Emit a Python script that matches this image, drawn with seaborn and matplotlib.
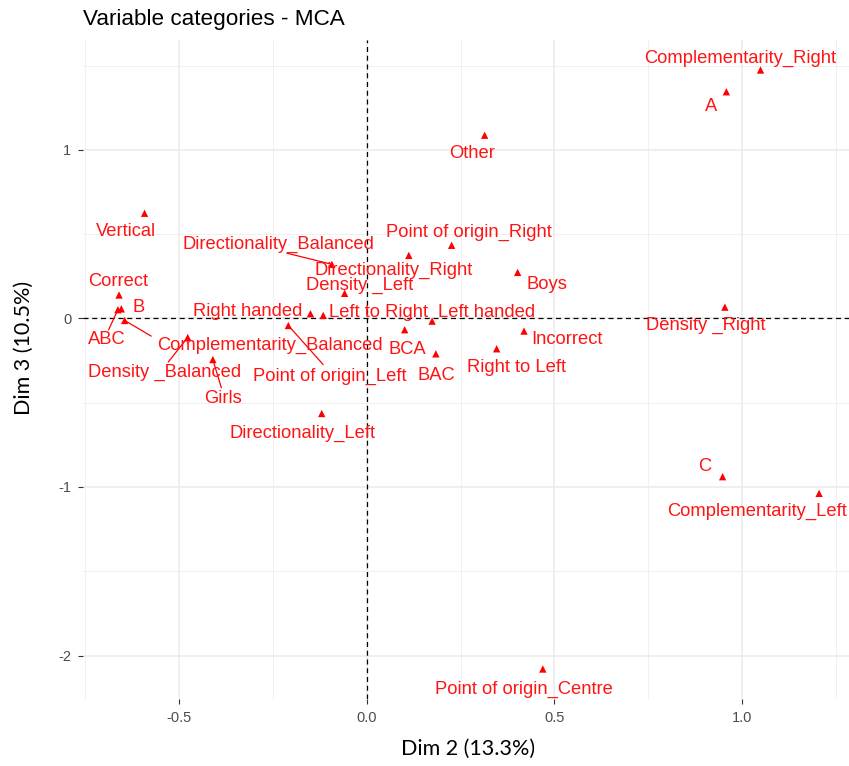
import numpy as np
import pandas as pd
import matplotlib
matplotlib.use('Agg')
import matplotlib.pyplot as plt
import seaborn as sns

# MCA variable categories: coordinates on Dim 2 / Dim 3
categories = [
    'Complementarity_Right', 'A', 'Other', 'Vertical', 'Point of origin_Right',
    'Directionality_Right', 'Directionality_Balanced', 'Boys', 'Density _Left',
    'Correct', 'B', 'ABC', 'Complementarity_Balanced', 'Density _Balanced',
    'Girls', 'Right handed', 'Left to Right', 'Point of origin_Left',
    'Directionality_Left', 'Left handed', 'BCA', 'BAC', 'Right to Left',
    'Incorrect', 'Density _Right', 'C', 'Complementarity_Left',
    'Point of origin_Centre',
]
dim2 = [1.049, 0.958, 0.314, -0.592, 0.226,
        0.112, -0.093, 0.402, -0.059,
        -0.660, -0.654, -0.663, -0.645, -0.477,
        -0.410, -0.150, -0.116, -0.209,
        -0.120, 0.174, 0.101, 0.184, 0.346,
        0.419, 0.954, 0.948, 1.205,
        0.469]
dim3 = [1.474, 1.345, 1.087, 0.624, 0.434,
        0.374, 0.321, 0.273, 0.149,
        0.139, 0.057, 0.052, -0.012, -0.113,
        -0.244, 0.028, 0.018, -0.042,
        -0.564, -0.016, -0.067, -0.210, -0.180,
        -0.075, 0.067, -0.939, -1.038,
        -2.080]

# repelled label placement (offset in pixels from the point) and leader lines
label_offsets = {
    'Complementarity_Right': (-20, 12), 'A': (-15, -15), 'Other': (-13, -18),
    'Vertical': (-19, -18), 'Point of origin_Right': (17, 13),
    'Directionality_Right': (-15, -15), 'Directionality_Balanced': (-53, 20),
    'Boys': (29, -12), 'Density _Left': (15, 8), 'Correct': (-1, 14),
    'B': (17, 1), 'ABC': (-11, -30), 'Complementarity_Balanced': (145, -25),
    'Density _Balanced': (-23, -35), 'Girls': (10, -39),
    'Right handed': (-63, 2), 'Left to Right': (55, 3),
    'Point of origin_Left': (41, -51), 'Directionality_Left': (-19, -20),
    'Left handed': (54, 9), 'BCA': (3, -20), 'BAC': (0, -22),
    'Right to Left': (20, -19), 'Incorrect': (43, -8),
    'Density _Right': (-19, -18), 'C': (-18, 10),
    'Complementarity_Left': (-62, -18), 'Point of origin_Centre': (-19, -20),
}
with_segment = {'Directionality_Balanced', 'ABC', 'Complementarity_Balanced',
                'Density _Balanced', 'Girls', 'Point of origin_Left'}

df = pd.DataFrame({'category': categories, 'dim2': dim2, 'dim3': dim3})

sns.set_theme(style='whitegrid')
plt.rcParams['font.family'] = ['Liberation Sans', 'DejaVu Sans']

W, H = 849, 766
fig = plt.figure(figsize=(W / 100, H / 100), dpi=100)
ax = fig.add_axes([83 / W, 1 - 699 / H, (854 - 83) / W, (699 - 40) / H])

ax.set_xlim(-0.756, 1.298)
ax.set_ylim(-2.258, 1.652)
ax.set_facecolor('white')
for s in ax.spines.values():
    s.set_visible(False)

ax.set_xticks([-0.5, 0.0, 0.5, 1.0])
ax.set_xticks([-0.75, -0.25, 0.25, 0.75, 1.25], minor=True)
ax.set_yticks([-2, -1, 0, 1])
ax.set_yticks([-1.5, -0.5, 0.5, 1.5], minor=True)
ax.set_xticklabels(['-0.5', '0.0', '0.5', '1.0'])
ax.set_yticklabels(['-2', '-1', '0', '1'])
ax.grid(True, which='major', color='#EBEBEB', linewidth=1.1)
ax.grid(True, which='minor', color='#F0F0F0', linewidth=0.7)
ax.tick_params(which='major', length=3.5, width=0.8, color='#333333',
               labelsize=10.5, labelcolor='#4D4D4D', pad=5, bottom=True, left=True)
ax.tick_params(which='minor', length=0)
ax.set_axisbelow(True)

ax.axhline(0, color='black', linestyle=(0, (4, 3)), linewidth=0.9, zorder=1)
ax.axvline(0, color='black', linestyle=(0, (4, 3)), linewidth=0.9, zorder=1)

sns.scatterplot(data=df, x='dim2', y='dim3', marker='^', color='red',
                s=28, edgecolor='none', ax=ax, zorder=3, legend=False)

texts = {}
for cat, x, y in zip(df['category'], df['dim2'], df['dim3']):
    dx, dy = label_offsets[cat]
    texts[cat] = ax.annotate(cat, (x, y), xytext=(dx, dy), textcoords='offset pixels',
                             ha='center', va='center', color='#FF1414',
                             fontsize=13.2, zorder=4)

# leader lines, ggrepel style: nearest corner, or edge middle when aligned
fig.canvas.draw()
inv = ax.transData.inverted()
for cat, x, y in zip(df['category'], df['dim2'], df['dim3']):
    if cat not in with_segment:
        continue
    bb = texts[cat].get_window_extent()
    px, py = ax.transData.transform((x, y))
    x0, x1, y0, y1 = bb.x0 - 1, bb.x1 + 1, bb.y0 + 1, bb.y1 - 1
    inside_x = x0 <= px <= x1
    inside_y = y0 <= py <= y1
    nx = (x0 + x1) / 2 if inside_x else (x0 if px < x0 else x1)
    ny = (y0 + y1) / 2 if inside_y else (y0 if py < y0 else y1)
    # stop a little short of the label, as the repel padding does
    nx = px + (nx - px) * 0.85
    ny = py + (ny - py) * 0.9
    ex, ey = inv.transform((nx, ny))
    ax.plot([x, ex], [y, ey], color='red', linewidth=0.9, zorder=2)

ax.set_xlabel('Dim 2 (13.3%)', fontsize=15.5, family=['Lato', 'DejaVu Sans'],
              color='black', labelpad=10)
ax.set_ylabel('Dim 3 (10.5%)', fontsize=15.5, family=['Lato', 'DejaVu Sans'],
              color='black')
ax.yaxis.set_label_coords((34 - 83) / 771, (699 - 348) / 659)
fig.text(83 / W, 1 - 20 / H, 'Variable categories - MCA', fontsize=16.2,
         ha='left', va='center', color='black')

fig.savefig('out.png', dpi=100)
